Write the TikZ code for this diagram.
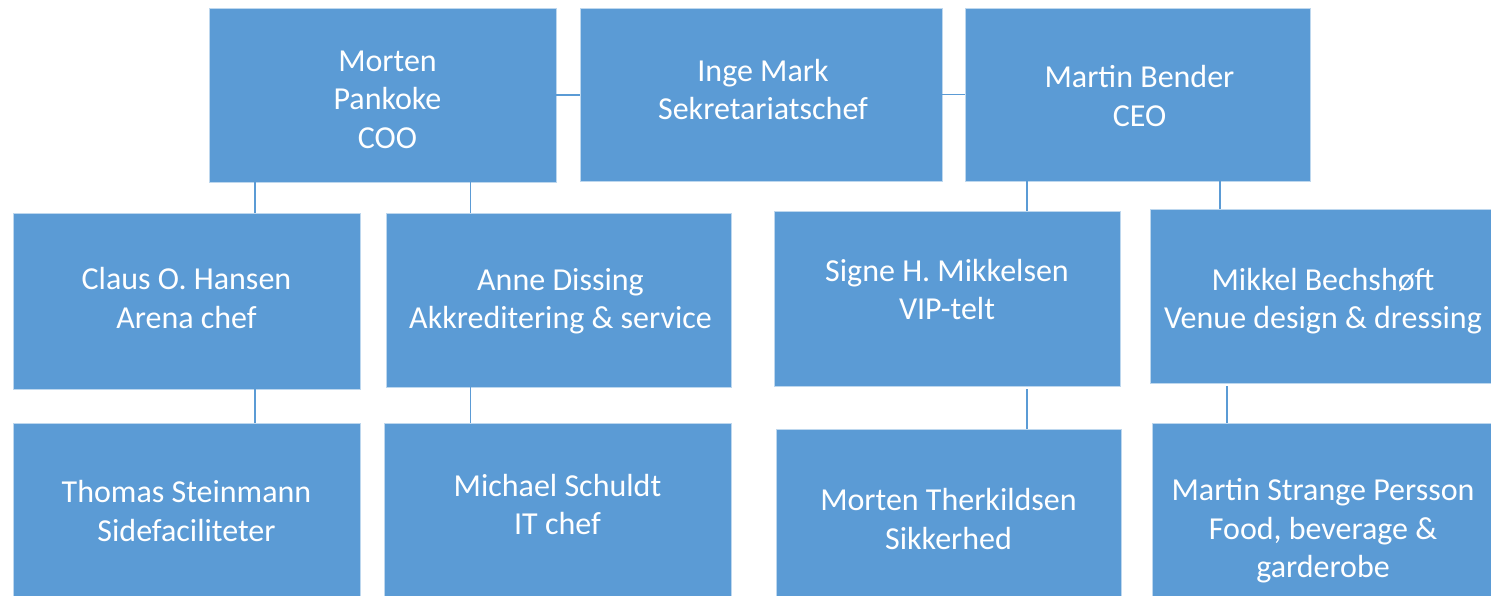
\documentclass[tikz,border=0pt]{standalone}
\usepackage{fontspec}
\setmainfont{Carlito}
\definecolor{boxblue}{HTML}{5B9BD5}
\definecolor{edgeblue}{HTML}{BDD7EE}
\tikzset{
  person/.style={rectangle, fill=boxblue, draw=edgeblue, line width=0.8pt,
    inner sep=0pt},
  txt/.style={text=white, align=center, inner sep=0pt,
    font=\fontsize{32}{38.5}\selectfont},
  link/.style={draw=boxblue, line width=1.6pt}
}
\begin{document}
\begin{tikzpicture}[x=1pt,y=-1pt]
\useasboundingbox (0,0) rectangle (1491,595);
\clip (0,0) rectangle (1491,595);
% boxes: top row
\node[person, minimum width=347, minimum height=174] (mp) at (382.5,95) {};
\node[person, minimum width=362, minimum height=173] (im) at (761,94.5) {};
\node[person, minimum width=345, minimum height=173] (mb) at (1137.5,94.5) {};
% middle row
\node[person, minimum width=347, minimum height=176] (ch) at (186.5,301) {};
\node[person, minimum width=345, minimum height=174] (ad) at (558.5,300) {};
\node[person, minimum width=346, minimum height=175] (sm) at (947,298.5) {};
\node[person, minimum width=346, minimum height=174] (mbe) at (1323,296) {};
% bottom row
\node[person, minimum width=347, minimum height=174] (ts) at (186.5,510) {};
\node[person, minimum width=347, minimum height=174] (ms) at (557.5,510) {};
\node[person, minimum width=345, minimum height=180] (mt) at (948.5,519) {};
\node[person, minimum width=342, minimum height=212] (msp) at (1323,529) {};
% texts
\node[txt] (mpt) at ([xshift=5,yshift=-4.5]mp.center) {Morten\\Pankoke\\COO};
\node[txt] (imt) at ([xshift=2,yshift=5]im.center) {Inge Mark\\Sekretariatschef};
\node[txt] (mbt) at ([xshift=2,yshift=-1.5]mb.center) {Martin Bender\\CEO};
\node[txt] (cht) at ([yshift=3]ch.center) {Claus O. Hansen\\Arena chef};
\node[txt] (adt) at ([xshift=2,yshift=-1]ad.center) {Anne Dissing\\Akkreditering \& service};
\node[txt] (smt) at ([yshift=9]sm.center) {Signe H. Mikkelsen\\VIP-telt};
\node[txt] (mbet) at ([yshift=-5]mbe.center) {Mikkel Bechshøft\\Venue design \& dressing};
\node[txt] (tst) at ([yshift=-1]ts.center) {Thomas Steinmann\\Sidefaciliteter};
\node[txt] (mst) at ([yshift=5.5]ms.center) {Michael Schuldt\\IT chef};
\node[txt] (mtt) at (mt.center) {Morten Therkildsen\\Sikkerhed};
\node[txt] (mspt) at ([yshift=-2]msp.center) {Martin Strange Persson\\Food, beverage \&\\garderobe};
% connectors
\draw[link] (mp.east) -- (mp.east -| im.west);
\draw[link] (im.east) -- (im.east -| mb.west);
\draw[link] ([xshift=68.5]ch.north) -- ([xshift=68.5]ch.north |- mp.south);
\draw[link] ([xshift=-88]ad.north) -- ([xshift=-88]ad.north |- mp.south);
\draw[link] ([xshift=80]sm.north) -- ([xshift=80]sm.north |- mb.south);
\draw[link] ([xshift=-103]mbe.north) -- ([xshift=-103]mbe.north |- mb.south);
\draw[link] ([xshift=68.5]ts.north) -- ([xshift=68.5]ts.north |- ch.south);
\draw[link] ([xshift=-87]ms.north) -- ([xshift=-87]ms.north |- ad.south);
\draw[link] ([xshift=78.5]mt.north) -- ([xshift=78.5,yshift=-3]mt.north |- sm.south);
\draw[link] ([xshift=-96]msp.north) -- ([xshift=-96,yshift=-3]msp.north |- mbe.south);
\end{tikzpicture}
\end{document}
